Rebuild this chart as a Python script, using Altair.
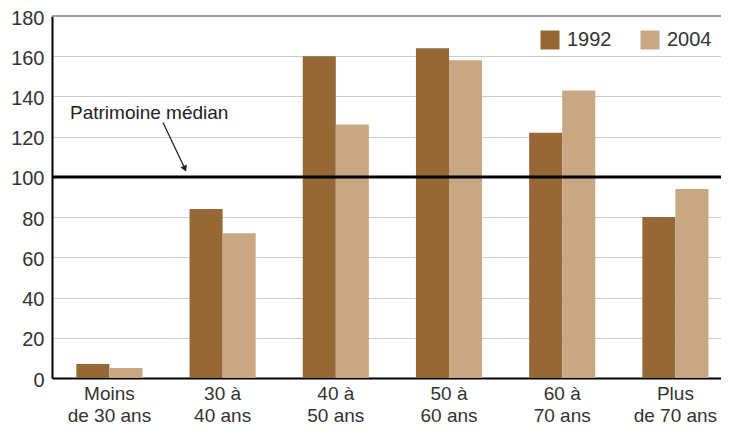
import altair as alt
import pandas as pd

categories = ["Moins\nde 30 ans", "30 à\n40 ans", "40 à\n50 ans", "50 à\n60 ans", "60 à\n70 ans", "Plus\nde 70 ans"]
v1992 = [7, 84, 160, 164, 122, 80]
v2004 = [5, 72, 126, 158, 143, 94]
years = ["1992", "2004"]
colors = ["#966836", "#c8a782"]
median_value = 100
top_value = 180
annotation_text = "Patrimoine médian"
annotation_y = 132
arrow_y = [127, 103]

FONT = "Liberation Sans, Arial, sans-serif"
FS = 19
W, H = 669, 362

rows = []
for c, a, b in zip(categories, v1992, v2004):
    rows.append({"cat": c, "year": years[0], "value": a})
    rows.append({"cat": c, "year": years[1], "value": b})
df = pd.DataFrame(rows)

yscale = alt.Scale(domain=[0, 180])

bars = alt.Chart(df).mark_bar().encode(
    x=alt.X("cat:N", sort=categories,
            scale=alt.Scale(paddingInner=0.416, paddingOuter=0.163, align=0.66),
            axis=alt.Axis(title=None, labelAngle=0, ticks=False,
                          labelExpr="split(datum.label, '\\n')",
                          labelFont=FONT, labelFontSize=FS, labelColor="#333333",
                          labelLineHeight=22, labelPadding=6,
                          domainColor="#000000", domainWidth=2)),
    xOffset=alt.XOffset("year:N", sort=years,
                        scale=alt.Scale(paddingInner=0, paddingOuter=0)),
    y=alt.Y("value:Q", scale=yscale,
            axis=alt.Axis(title=None, values=list(range(0, 181, 20)), ticks=False,
                          labelFont=FONT, labelFontSize=20, labelColor="#333333",
                          labelPadding=8, labelOffset=2,
                          gridColor="#cccccc", gridWidth=1,
                          domainColor="#000000", domainWidth=2)),
    color=alt.Color("year:N", sort=years,
                    scale=alt.Scale(domain=years, range=colors),
                    legend=alt.Legend(title=None, orient="none", legendX=488, legendY=14,
                                      direction="horizontal", symbolType="square",
                                      symbolSize=361, symbolStrokeWidth=0,
                                      labelFont=FONT, labelFontSize=20,
                                      labelColor="#333333", labelOffset=7,
                                      columnPadding=28)),
)

median_rule = alt.Chart(pd.DataFrame({"v": [median_value]})).mark_rule(
    color="#000000", strokeWidth=3).encode(y=alt.Y("v:Q", scale=yscale))

top_rule = alt.Chart(pd.DataFrame({"v": [top_value]})).mark_rule(
    color="#a0a0a0", strokeWidth=2).encode(y=alt.Y("v:Q", scale=yscale))

text = alt.Chart(pd.DataFrame({"t": [annotation_text], "v": [annotation_y]})).mark_text(
    align="left", baseline="middle", font=FONT, fontSize=FS, color="#222222"
).encode(x=alt.value(18), y=alt.Y("v:Q", scale=yscale), text="t:N")

arrow_line = alt.Chart(pd.DataFrame({"a": [arrow_y[0]], "b": [arrow_y[1] + 2]})).mark_rule(
    color="#222222", strokeWidth=1.3
).encode(x=alt.value(111), x2=alt.value(132), y=alt.Y("a:Q", scale=yscale), y2="b:Q")

arrow_head = alt.Chart(pd.DataFrame({"v": [arrow_y[1] + 1.5]})).mark_point(
    shape="triangle", filled=True, color="#222222", size=50, angle=156, opacity=1
).encode(x=alt.value(132.5), y=alt.Y("v:Q", scale=yscale))

chart = alt.layer(top_rule, bars, median_rule, text, arrow_line, arrow_head).properties(
    width=W, height=H,
    autosize=alt.AutoSizeParams(type="none"),
    padding={"left": 44, "top": 8, "right": 0, "bottom": 47},
).configure_view(stroke=None)

chart.save("out.html", embed_options={"renderer": "svg", "actions": False})
